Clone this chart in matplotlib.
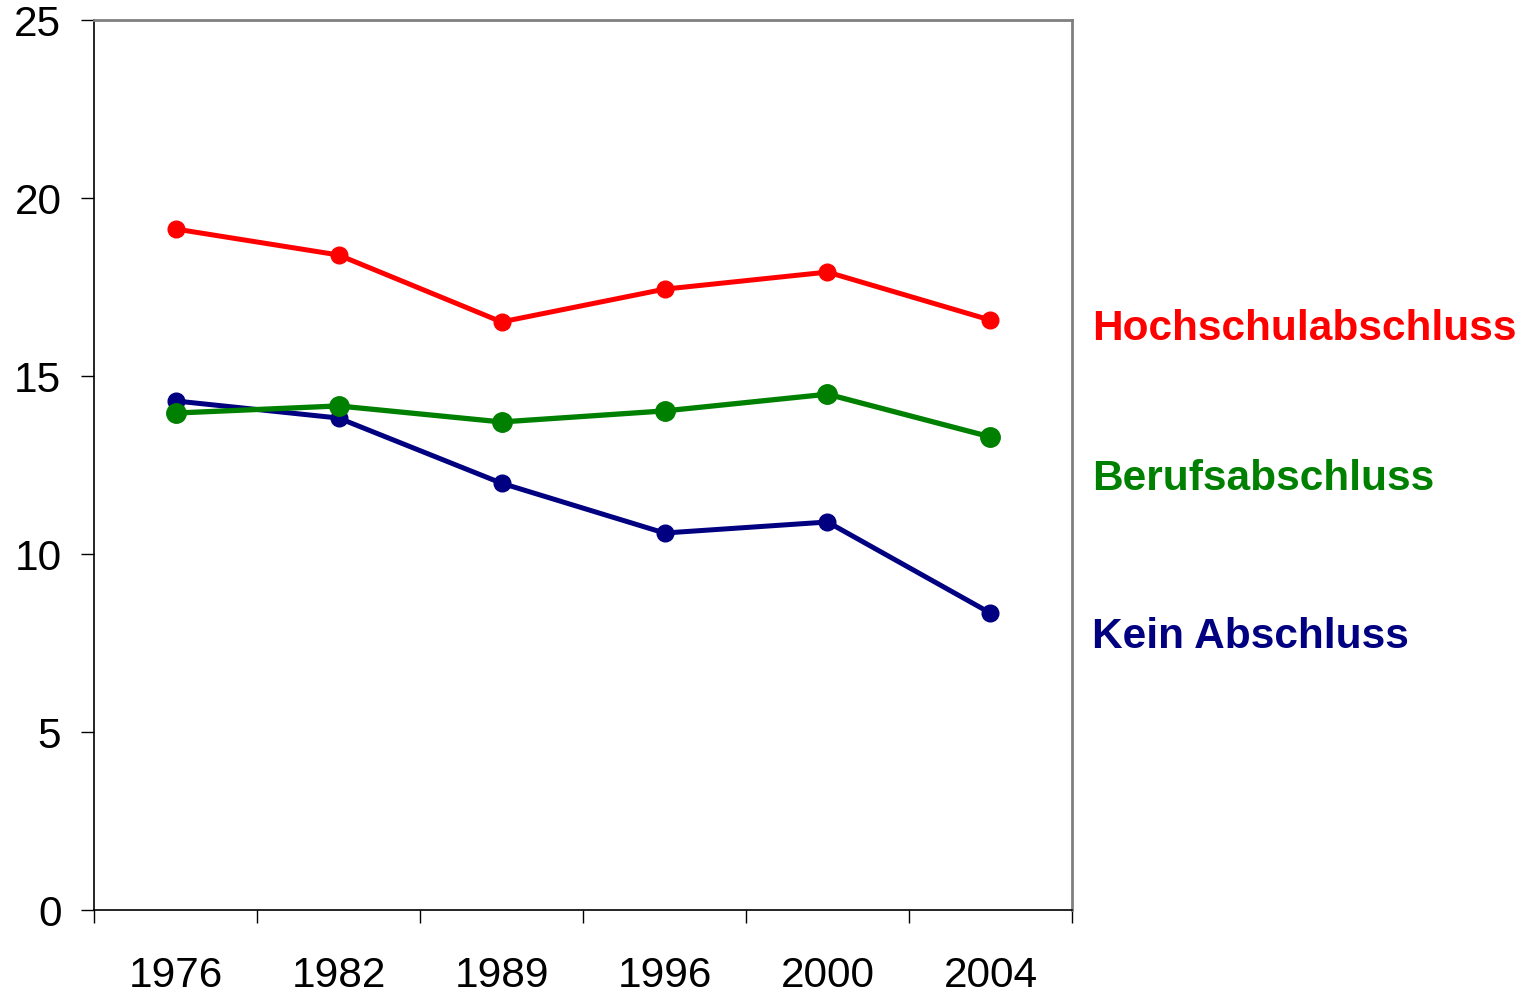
import matplotlib.pyplot as plt
import numpy as np

plt.rcParams['font.family'] = ['Liberation Sans', 'DejaVu Sans']

years = ['1976', '1982', '1989', '1996', '2000', '2004']
hochschul = [19.13, 18.40, 16.52, 17.44, 17.92, 16.57]
beruf = [13.96, 14.16, 13.71, 14.02, 14.49, 13.29]
kein = [14.30, 13.82, 11.99, 10.59, 10.90, 8.34]

series_names = ['Hochschulabschluss', 'Berufsabschluss', 'Kein Abschluss']
label_y = [16.33, 12.1, 7.68]

fig = plt.figure(figsize=(15.24, 9.96), dpi=100)
ax = fig.add_axes([0.0617, 0.0863, 0.6417, 0.8936])

x = np.arange(len(years))
ax.plot(x, kein, '-o', color='#000080', lw=3.6, ms=12, zorder=3)
ax.plot(x, beruf, '-o', color='#008000', lw=3.8, ms=14, zorder=4)
ax.plot(x, hochschul, '-o', color='#ff0000', lw=3.6, ms=12, zorder=5)

colors = ['#ff0000', '#008000', '#000080']
for name, yy, c in zip(series_names, label_y, colors):
    ax.text(1.0204, yy, name, transform=ax.get_yaxis_transform(), color=c,
            fontsize=30.5, fontweight='bold', va='center', ha='left', clip_on=False)

ax.set_xlim(-0.5, len(years) - 0.5)
ax.set_ylim(0, 25)
ax.set_yticks([0, 5, 10, 15, 20, 25])
ax.set_xticks(np.arange(len(years) + 1) - 0.5, minor=False)
ax.set_xticklabels([])
ax.set_xticks(x, minor=True)
ax.set_xticklabels(years, minor=True)
ax.tick_params(axis='x', which='minor', length=0, pad=33, labelsize=30.5)
ax.tick_params(axis='x', which='major', length=9.5, width=1, direction='out')
ax.tick_params(axis='y', length=9.5, width=1, direction='out', pad=14, labelsize=30.5)

for s in ['left', 'bottom']:
    ax.spines[s].set_color('black')
    ax.spines[s].set_linewidth(1.2)
for s in ['top', 'right']:
    ax.spines[s].set_color('#808080')
    ax.spines[s].set_linewidth(2)

fig.savefig('out.png', dpi=100)
